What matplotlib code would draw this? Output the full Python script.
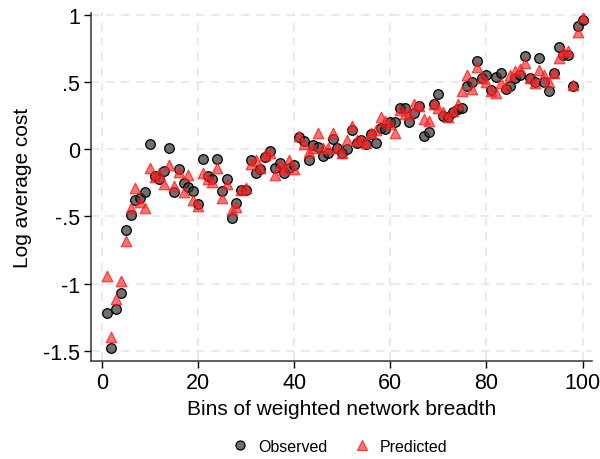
import numpy as np
import matplotlib
matplotlib.use("Agg")
import matplotlib.pyplot as plt
from matplotlib.lines import Line2D

plt.rcParams['font.family'] = ['Liberation Sans', 'DejaVu Sans']

bins = list(range(1, 101))
observed = [
    -1.22, -1.48, -1.19, -1.07, -0.60, -0.49, -0.38, -0.36, -0.32, 0.04,
    -0.20, -0.22, -0.16, 0.01, -0.32, -0.15, -0.25, -0.28, -0.31, -0.41,
    -0.07, -0.20, -0.22, -0.07, -0.31, -0.22, -0.51, -0.40, -0.30, -0.30,
    -0.08, -0.18, -0.15, -0.06, -0.01, -0.14, -0.10, -0.18, -0.14, -0.12,
    0.09, 0.06, -0.08, 0.03, 0.02, -0.05, -0.03, 0.08, 0.01, -0.03,
    0.00, 0.14, 0.05, 0.07, 0.04, 0.11, 0.05, 0.155, 0.15, 0.20,
    0.20, 0.31, 0.31, 0.20, 0.27, 0.32, 0.10, 0.125, 0.34, 0.41,
    0.25, 0.24, 0.28, 0.30, 0.31, 0.47, 0.50, 0.66, 0.53, 0.55,
    0.44, 0.54, 0.57, 0.45, 0.47, 0.53, 0.55, 0.69, 0.53, 0.50,
    0.68, 0.50, 0.43, 0.565, 0.76, 0.70, 0.70, 0.47, 0.915, 0.96,
]
predicted = [
    -0.94, -1.40, -1.11, -0.98, -0.68, -0.44, -0.29, -0.39, -0.44, -0.14,
    -0.21, -0.18, -0.26, -0.12, -0.27, -0.17, -0.32, -0.19, -0.38, -0.42,
    -0.18, -0.22, -0.24, -0.14, -0.36, -0.26, -0.45, -0.43, -0.30, -0.29,
    -0.11, -0.08, -0.14, -0.04, -0.03, -0.19, -0.12, -0.15, -0.08, -0.15,
    0.10, 0.04, -0.02, 0.01, 0.12, 0.01, 0.01, 0.12, 0.01, -0.03,
    0.07, 0.17, 0.07, 0.07, 0.045, 0.12, 0.14, 0.24, 0.21, 0.19,
    0.12, 0.29, 0.26, 0.26, 0.34, 0.32, 0.225, 0.21, 0.34, 0.305,
    0.28, 0.24, 0.285, 0.34, 0.43, 0.55, 0.45, 0.615, 0.53, 0.50,
    0.43, 0.42, 0.49, 0.47, 0.55, 0.58, 0.60, 0.645, 0.53, 0.49,
    0.59, 0.55, 0.50, 0.57, 0.68, 0.73, 0.73, 0.48, 0.875, 0.985,
]
x_ticks = [0, 20, 40, 60, 80, 100]
y_ticks = [-1.5, -1, -0.5, 0, 0.5, 1]
y_tick_labels = ["-1.5", "-1", "-.5", "0", ".5", "1"]

fig = plt.figure(figsize=(6, 4.6), dpi=100)
ax = fig.add_axes([0.152, 0.213, 0.835, 0.757])

ax.scatter(bins, observed, s=48, marker='o', facecolor=(0.2, 0.2, 0.2, 0.7),
           edgecolor='black', linewidth=0.9, zorder=3)
ax.scatter(bins, predicted, s=58, marker='^', facecolor=(1.0, 0.15, 0.15, 0.65),
           edgecolor=(0.95, 0.1, 0.1, 0.8), linewidth=0.8, zorder=4)

ax.set_xlim(-2.2, 102)
ax.set_ylim(-1.575, 1.015)
ax.set_xticks(x_ticks)
ax.set_yticks(y_ticks)
ax.set_yticklabels(y_tick_labels)
ax.tick_params(axis='both', labelsize=15.5, length=5, width=1, color='black', pad=3)

ax.grid(True, color='#e6e6e6', linestyle=(0, (5, 4)), linewidth=1.2, zorder=0)
ax.set_axisbelow(True)
for side in ['top', 'right']:
    ax.spines[side].set_visible(False)
for side in ['left', 'bottom']:
    ax.spines[side].set_color('#333333')
    ax.spines[side].set_linewidth(1.1)

ax.set_xlabel("Bins of weighted network breadth", fontsize=15, labelpad=4)
ax.set_ylabel("Log average cost", fontsize=15, labelpad=8)

handles = [
    Line2D([], [], linestyle='none', marker='o', markersize=6.5,
           markerfacecolor=(0.2, 0.2, 0.2, 0.7), markeredgecolor='black', markeredgewidth=0.9),
    Line2D([], [], linestyle='none', marker='^', markersize=7,
           markerfacecolor=(1.0, 0.15, 0.15, 0.65), markeredgecolor=(0.95, 0.1, 0.1, 0.8),
           markeredgewidth=0.8),
]
fig.legend(handles, ["Observed", "Predicted"], loc='center', bbox_to_anchor=(0.565, 0.028),
           ncol=2, frameon=False, fontsize=11.5, handlelength=1.2, handletextpad=0.5,
           columnspacing=1.6)

fig.savefig("out.png", dpi=100, facecolor='white')
